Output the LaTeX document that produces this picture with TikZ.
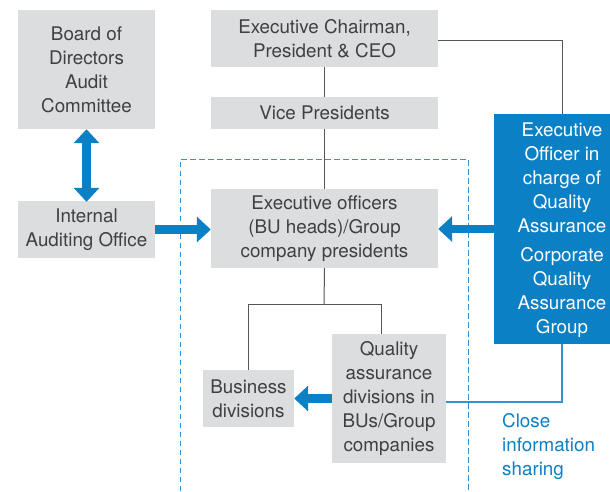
\documentclass[tikz,border=0pt]{standalone}
\usepackage{fontspec}
\setmainfont{TeX Gyre Heros}
\usetikzlibrary{arrows.meta}
\definecolor{gbox}{HTML}{DCDDDF}
\definecolor{qblue}{HTML}{0B80C5}
\definecolor{lblue}{HTML}{2F93D6}
\definecolor{tgray}{HTML}{404040}
\definecolor{lgray}{HTML}{555555}
\begin{document}
\begin{tikzpicture}[x=1pt,y=-1pt,
  box/.style={fill=gbox,inner sep=0pt,align=center,text=tgray,
    font=\fontsize{18.8}{24}\selectfont},
  conn/.style={draw=lgray,line width=1pt},
  fat/.style={draw=qblue,line width=8.5pt,-{Triangle[width=25pt,length=14pt]}},
  fatboth/.style={draw=qblue,line width=8.5pt,{Triangle[width=25pt,length=14pt]}-{Triangle[width=25pt,length=14pt]}}]
\useasboundingbox (0,0) rectangle (610,491);
% dashed frame
\draw[lblue,line width=1pt,dash pattern=on 5.5pt off 3.5pt] (180,491) -- (180,159) -- (468,159) -- (468,491);
% boxes
\node[box,minimum width=137pt,minimum height=119pt] (board) at (86.5,69.5) {Board of\\Directors\\Audit\\Committee};
\node[box,minimum width=137pt,minimum height=57pt] (iao) at (86.5,229.5) {Internal\\Auditing Office};
\node[box,minimum width=227pt,minimum height=57pt] (ceo) at (324.5,38.5) {Executive Chairman,\\President \& CEO};
\node[box,minimum width=227pt,minimum height=32pt] (vp) at (324.5,113) {Vice Presidents};
\node[box,minimum width=227pt,minimum height=79pt] (exec) at (324.5,228.5) {Executive officers\\(BU heads)/Group\\company presidents};
\node[box,minimum width=91pt,minimum height=57pt] (bus) at (248.5,398.5) {Business\\divisions};
\node[box,minimum width=114pt,minimum height=129pt] (qa) at (389,398.5) {Quality\\assurance\\divisions in\\BUs/Group\\companies};
\node[fill=qblue,minimum width=116pt,minimum height=230pt,inner sep=0pt] (blue) at (552,229) {};
\node[text=white,align=center,font=\fontsize{18.8}{24}\selectfont,inner sep=0pt] (bluet1) at (562,177.5) {Executive\\Officer in\\charge of\\Quality\\Assurance};
\node[text=white,align=center,font=\fontsize{18.8}{24}\selectfont,inner sep=0pt] (bluet2) at (562,293) {Corporate\\Quality\\Assurance\\Group};
\node[text=qblue,align=left,anchor=west,font=\fontsize{18.8}{24}\selectfont,inner sep=0pt] (close) at (502,446.5) {Close\\information\\sharing};
% connectors
\coordinate (ceoR) at (562,40);
\draw[conn] (ceo.east |- ceoR) -- (ceoR) -- (ceoR |- blue.north);
\draw[conn] (ceo.south) -- (vp.north);
\draw[conn] (vp.south) -- (exec.north);
\coordinate (split) at (324,304);
\draw[conn] (exec.south) -- (split);
\draw[conn] (bus.north -| 248,0) -- (248,304) -- (381,304) -- (381,334);
\coordinate (infoC) at (562,402);
\draw[lblue,line width=1.3pt] (blue.south -| infoC) -- (infoC) -- (infoC -| qa.east);
% thick arrows
\draw[fat] (iao.east) -- (iao.east -| exec.west);
\draw[fat] (blue.west) -- (blue.west -| exec.east);
\draw[fat] (qa.west) -- (bus.east);
\draw[fatboth] (board.south) -- ([yshift=-1pt]iao.north);
\end{tikzpicture}
\end{document}
